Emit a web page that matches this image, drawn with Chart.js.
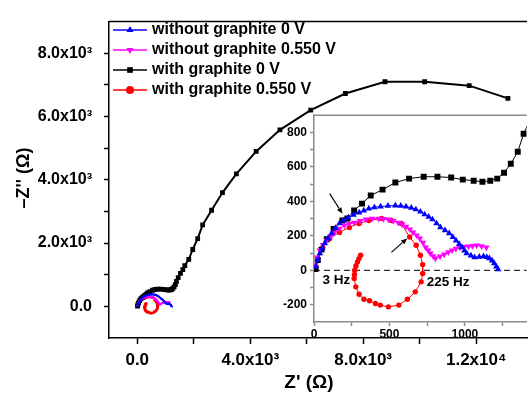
<!DOCTYPE html>
<html lang="en">
<head>
<meta charset="UTF-8">
<title>Nyquist plot - graphite</title>
<script src="https://cdn.jsdelivr.net/npm/chart.js"></script>
<style>
  html, body { margin: 0; padding: 0; background: #fff; overflow: hidden; }
  #wrap { position: relative; width: 531px; height: 394px; }
  #main { position: absolute; left: 0; top: 0; }
  #inset { position: absolute; left: 270px; top: 105px; }
</style>
</head>
<body>
<div id="wrap">
  <canvas id="main" width="531" height="394"></canvas>
  <canvas id="inset" width="261" height="240"></canvas>
</div>
<script>
// series data (Z' , -Z'') in ohm
const blueX = [13, 25, 39, 55, 71, 93, 117, 142, 169, 197, 227, 262, 299, 330, 363, 400, 441, 490, 539, 575, 610, 645, 675, 705, 733, 760, 785, 812, 837, 868, 896, 920, 941, 962, 980, 997, 1012, 1040, 1064, 1095, 1123, 1145, 1162, 1180, 1194, 1208, 1220];
const blueY = [23, 60, 98, 128, 156, 186, 214, 245, 272, 290, 306, 322, 335, 347, 358, 366, 370, 374, 376, 374, 370, 362, 353, 340, 324, 310, 295, 272, 249, 232, 214, 193, 173, 152, 133, 115, 98, 85, 75, 78, 81, 76, 69, 56, 40, 22, 6];

const magX = [6, 20, 39, 60, 84, 110, 136, 168, 201, 233, 266, 305, 344, 385, 428, 460, 493, 525, 558, 585, 610, 635, 656, 680, 701, 722, 740, 757, 772, 790, 805, 835, 863, 890, 915, 940, 967, 995, 1025, 1050, 1077, 1110, 1142];
const magY = [29, 75, 116, 148, 173, 198, 220, 242, 260, 270, 277, 287, 295, 299, 300, 298, 295, 287, 277, 266, 254, 238, 220, 203, 185, 160, 133, 115, 98, 82, 69, 80, 92, 105, 116, 125, 133, 137, 139, 142, 145, 140, 133];

const blackX = [10, 25, 50, 85, 130, 188, 221, 266, 318, 376, 454, 539, 630, 727, 818, 909, 986, 1058, 1116, 1168, 1214, 1259, 1304, 1350, 1389, 1450, 1530, 1614, 1684, 1825, 1965, 2140, 2316, 2632, 3018, 3509, 4211, 5053, 6141, 7369, 8772, 10176, 11755, 13124];
const blackY = [8, 60, 120, 180, 240, 289, 301, 347, 387, 434, 468, 509, 532, 543, 543, 538, 526, 520, 514, 520, 532, 566, 618, 688, 792, 910, 1040, 1160, 1290, 1488, 1798, 2139, 2573, 3038, 3596, 4185, 4898, 5580, 6200, 6727, 7099, 7099, 6975, 6572];

const redX = [13, 58, 104, 169, 234, 299, 363, 448, 513, 578, 634, 677, 705, 720, 720, 710, 671, 619, 562, 493, 439, 407, 368, 331, 299, 277, 266, 268, 270, 278, 288, 298, 309];
const redY = [23, 133, 185, 220, 249, 272, 289, 301, 289, 272, 193, 145, 87, 33, -19, -67, -125, -168, -202, -212, -202, -193, -177, -168, -139, -96, -48, -24, 0, 25, 48, 68, 87];

const seriesLabels = ['without graphite 0 V', 'without graphite 0.550 V', 'with graphite 0 V', 'with graphite 0.550 V'];

// main axes ticks
const mainXTicks = [0, 2000, 4000, 6000, 8000, 10000, 12000];
const mainXLabels = ['0.0', '', '4.0x10³', '', '8.0x10³', '', '1.2x10⁴'];
const mainYTicks = [0, 1000, 2000, 3000, 4000, 5000, 6000, 7000, 8000];
const mainYLabels = ['0.0', '', '2.0x10³', '', '4.0x10³', '', '6.0x10³', '', '8.0x10³'];

// inset axes ticks
const insetXTicks = [0, 250, 500, 750, 1000, 1250];
const insetXLabels = ['0', '', '500', '', '1000', ''];
const insetYTicks = [-200, -100, 0, 100, 200, 300, 400, 500, 600, 700, 800];
const insetYLabels = ['-200', '', '0', '', '200', '', '400', '', '600', '', '800'];

// inset annotations
const zeroLineX = [0, 1410];
const freqLabels = ['3 Hz', '225 Hz'];
const freqX = [149, 889];
const freqY = [-58, -69];
const arrowTailX = [104, 513];
const arrowTailY = [445, 104];
const arrowHeadX = [188, 617];
const arrowHeadY = [329, 185];

const FONT = 'Liberation Sans, Arial, sans-serif';
Chart.defaults.font.family = FONT;
Chart.defaults.color = '#000';

function pts(xs, ys) { return xs.map((x, i) => ({ x: x, y: ys[i] })); }

const styles = [
  { color: '#0000ff', pointStyle: 'triangle', rotation: 0 },
  { color: '#ff00ff', pointStyle: 'triangle', rotation: 180 },
  { color: '#000000', pointStyle: 'rect', rotation: 0 },
  { color: '#ff0000', pointStyle: 'circle', rotation: 0 }
];
const allData = [pts(blueX, blueY), pts(magX, magY), pts(blackX, blackY), pts(redX, redY)];

function makeDatasets(radii, widths) {
  return allData.map((d, i) => ({
    label: seriesLabels[i],
    data: d,
    showLine: true,
    borderColor: styles[i].color,
    backgroundColor: styles[i].color,
    pointBackgroundColor: styles[i].color,
    pointBorderColor: styles[i].color,
    pointBorderWidth: 0,
    pointStyle: styles[i].pointStyle,
    rotation: styles[i].rotation,
    pointRadius: radii[i],
    borderWidth: widths[i],
    tension: 0
  }));
}

function scaleOpts(o) {
  return {
    type: 'linear',
    min: o.min, max: o.max,
    afterFit: s => { if (o.w) s.width = o.w; if (o.h) s.height = o.h; },
    afterBuildTicks: s => { s.ticks = o.ticks.map(v => ({ value: v })); },
    grid: { drawOnChartArea: false, color: o.color, tickLength: o.tl, tickWidth: o.lw },
    border: { color: o.color, width: o.lw },
    ticks: {
      autoSkip: false, maxRotation: 0, minRotation: 0, padding: o.pad,
      color: '#000', font: { size: o.fs, weight: 'bold' },
      callback: (v, i) => o.labels[i]
    }
  };
}

const mainDecor = {
  id: 'mainDecor',
  afterDraw(chart) {
    const ctx = chart.ctx, a = chart.chartArea;
    ctx.save();
    ctx.strokeStyle = '#000';
    ctx.lineWidth = 1.5;
    ctx.beginPath(); ctx.moveTo(a.left, a.top); ctx.lineTo(a.right, a.top); ctx.stroke();
    // legend
    ctx.font = 'bold 16px ' + FONT;
    ctx.textBaseline = 'middle';
    ctx.textAlign = 'left';
    seriesLabels.forEach((lab, i) => {
      const y = 30 + i * 20;
      ctx.strokeStyle = styles[i].color;
      ctx.lineWidth = 1.5;
      ctx.beginPath(); ctx.moveTo(113, y); ctx.lineTo(147, y); ctx.stroke();
      ctx.fillStyle = styles[i].color;
      Chart.helpers.drawPoint(ctx, { pointStyle: styles[i].pointStyle, radius: 4, rotation: styles[i].rotation, borderWidth: 0 }, 130, y);
      ctx.fillStyle = '#000';
      ctx.fillText(lab, 152, y);
    });
    // axis titles
    ctx.font = 'bold 19px ' + FONT;
    ctx.textAlign = 'center';
    ctx.fillText("Z' (Ω)", 309, 383);
    ctx.translate(24, 178);
    ctx.rotate(-Math.PI / 2);
    ctx.font = 'bold 18px ' + FONT;
    ctx.fillText("–Z'' (Ω)", 0, 0);
    ctx.restore();
  }
};

const insetDecor = {
  id: 'insetDecor',
  beforeDatasetsDraw(chart) {
    const ctx = chart.ctx, a = chart.chartArea;
    ctx.save();
    ctx.strokeStyle = '#8c8c8c';
    ctx.lineWidth = 1.5;
    ctx.beginPath(); ctx.moveTo(a.left, a.top); ctx.lineTo(a.right, a.top); ctx.stroke();
    ctx.restore();
  },
  afterDraw(chart) {
    const ctx = chart.ctx, xs = chart.scales.x, ys = chart.scales.y;
    ctx.save();
    ctx.fillStyle = '#000';
    ctx.font = 'bold 13.5px ' + FONT;
    ctx.textAlign = 'center';
    ctx.textBaseline = 'middle';
    freqLabels.forEach((t, i) => ctx.fillText(t, xs.getPixelForValue(freqX[i]), ys.getPixelForValue(freqY[i])));
    ctx.strokeStyle = '#000';
    ctx.lineWidth = 1.2;
    arrowTailX.forEach((tx, i) => {
      const x0 = xs.getPixelForValue(tx), y0 = ys.getPixelForValue(arrowTailY[i]);
      const x1 = xs.getPixelForValue(arrowHeadX[i]), y1 = ys.getPixelForValue(arrowHeadY[i]);
      const ang = Math.atan2(y1 - y0, x1 - x0), L = 6, W = 2.6;
      const bx = x1 - L * Math.cos(ang), by = y1 - L * Math.sin(ang);
      ctx.beginPath(); ctx.moveTo(x0, y0); ctx.lineTo(bx, by); ctx.stroke();
      ctx.beginPath();
      ctx.moveTo(x1, y1);
      ctx.lineTo(bx + W * Math.sin(ang), by - W * Math.cos(ang));
      ctx.lineTo(bx - W * Math.sin(ang), by + W * Math.cos(ang));
      ctx.closePath();
      ctx.fill();
    });
    ctx.restore();
  }
};

new Chart(document.getElementById('main'), {
  type: 'scatter',
  data: { datasets: makeDatasets([1.6, 1.6, 3.4, 1.6], [1.5, 1.5, 2, 1.5]) },
  options: {
    responsive: false, animation: false, devicePixelRatio: 1,
    layout: { padding: { top: 16, left: 0, right: 0, bottom: 0 } },
    plugins: { legend: { display: false }, tooltip: { enabled: false } },
    scales: {
      x: scaleOpts({ min: -1000, max: 13800, h: 56, ticks: mainXTicks, labels: mainXLabels, color: '#000', tl: 6, lw: 1.5, pad: 6, fs: 17 }),
      y: scaleOpts({ min: -1000, max: 9000, w: 109, ticks: mainYTicks, labels: mainYLabels, color: '#000', tl: 5, lw: 1.5, pad: 12, fs: 16 })
    }
  },
  plugins: [mainDecor]
});

const insetSets = makeDatasets([3.8, 3.8, 4.2, 2.7], [1, 1, 1, 1]);
insetSets.push({
  label: 'zero',
  data: pts(zeroLineX, [0, 0]),
  showLine: true,
  borderColor: '#000',
  borderWidth: 1,
  borderDash: [6, 4],
  pointRadius: 0
});

new Chart(document.getElementById('inset'), {
  type: 'scatter',
  data: { datasets: insetSets },
  options: {
    responsive: false, animation: false, devicePixelRatio: 1,
    layout: { padding: { top: 9, left: 0, right: 0, bottom: 0 } },
    plugins: { legend: { display: false }, tooltip: { enabled: false } },
    scales: {
      x: scaleOpts({ min: 0, max: 1410, h: 23, ticks: insetXTicks, labels: insetXLabels, color: '#8c8c8c', tl: 4, lw: 1.5, pad: 1, fs: 12 }),
      y: scaleOpts({ min: -300, max: 900, w: 44, ticks: insetYTicks, labels: insetYLabels, color: '#8c8c8c', tl: 4, lw: 1.5, pad: 3, fs: 12 })
    }
  },
  plugins: [insetDecor]
});
</script>
</body>
</html>
